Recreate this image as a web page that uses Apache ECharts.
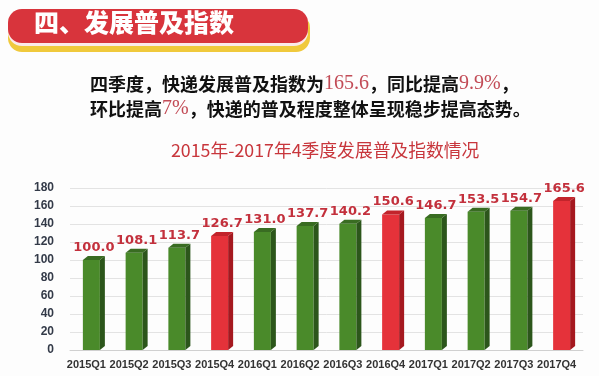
<!DOCTYPE html>
<html>
<head>
<meta charset="utf-8">
<script src="https://cdn.jsdelivr.net/npm/echarts@6/dist/echarts.min.js"></script>
<style>
    html, body { margin: 0; padding: 0; background: #fdfdfd; }
    #main { width: 599px; height: 376px; }
</style>
</head>
<body>
<div id="main"></div>
<script>
    // 数据
    var quarters = ['2015Q1', '2015Q2', '2015Q3', '2015Q4', '2016Q1', '2016Q2', '2016Q3', '2016Q4', '2017Q1', '2017Q2', '2017Q3', '2017Q4'];
    var indexValues = [100.0, 108.1, 113.7, 126.7, 131.0, 137.7, 140.2, 150.6, 146.7, 153.5, 154.7, 165.6];
    var yTicks = [0, 20, 40, 60, 80, 100, 120, 140, 160, 180];

    var green = { front: '#4a8a2a', side: '#2c561b', top: '#396c22' };
    var red = { front: '#e5323a', side: '#a5181f', top: '#c2242b' };

    var chart = echarts.init(document.getElementById('main'));

    // 立体柱子
    function renderBar(params, api) {
        var idx = api.value(0);
        var base = api.coord([idx, 0]);
        var top = api.coord([idx, api.value(1)]);
        var w = 17, dx = 5, dy = 4;
        var x0 = top[0] - w / 2;
        var c = quarters[idx].slice(-2) === 'Q4' ? red : green;
        return {
            type: 'group',
            children: [
                { type: 'rect', shape: { x: x0, y: top[1], width: w, height: base[1] - top[1] }, style: { fill: c.front } },
                { type: 'polygon', shape: { points: [[x0 + w, top[1]], [x0 + w + dx, top[1] - dy], [x0 + w + dx, base[1] - dy], [x0 + w, base[1]]] }, style: { fill: c.side } },
                { type: 'polygon', shape: { points: [[x0, top[1]], [x0 + dx, top[1] - dy], [x0 + w + dx, top[1] - dy], [x0 + w, top[1]]] }, style: { fill: c.top } },
                {
                    type: 'text',
                    style: {
                        x: x0 + (w + dx) / 2, y: top[1] - dy - 2,
                        text: api.value(1).toFixed(1),
                        align: 'center', verticalAlign: 'bottom',
                        fill: '#c3303c', font: 'bold 13px "DejaVu Sans", sans-serif'
                    }
                }
            ]
        };
    }

    var option = {
        backgroundColor: '#fdfdfd',
        animation: false,
        title: {
            text: '2015年-2017年4季度发展普及指数情况',
            left: 166, top: 136,
            textStyle: { color: '#c8363c', fontSize: 17.8, fontWeight: 'normal', fontFamily: 'Noto Sans CJK SC' }
        },
        graphic: [
            { type: 'rect', shape: { x: 8, y: 14, width: 302, height: 38, r: 14 }, style: { fill: '#f0c93c' } },
            { type: 'rect', shape: { x: 8, y: 9, width: 300, height: 37, r: 14 }, style: { fill: '#fbeaea' } },
            { type: 'rect', shape: { x: 8, y: 9, width: 300, height: 34, r: 14 }, style: { fill: '#d8343c' } },
            {
                type: 'text', left: 34, top: 10,
                style: { text: '四、发展普及指数', fill: '#fff', font: '900 25px "Noto Sans CJK SC"' }
            },
            {
                type: 'text', left: 90, top: 74,
                style: {
                    text: '{b|四季度，快递发展普及指数为}{r|165.6}{b|，同比提高}{r|9.9%}{b|，}',
                    rich: {
                        b: { fill: '#111', font: 'bold 18px "Noto Sans CJK SC"' },
                        r: { fill: '#c24b56', font: '20px "Liberation Serif"' }
                    }
                }
            },
            {
                type: 'text', left: 90, top: 99,
                style: {
                    text: '{b|环比提高}{r|7%}{b|，快递的普及程度整体呈现稳步提高态势。}',
                    rich: {
                        b: { fill: '#111', font: 'bold 18px "Noto Sans CJK SC"' },
                        r: { fill: '#c24b56', font: '20px "Liberation Serif"' }
                    }
                }
            }
        ],
        grid: { left: 70, right: 16, top: 188, bottom: 26 },
        xAxis: {
            type: 'category',
            data: quarters,
            axisLine: { lineStyle: { color: '#d0d0d0' } },
            axisTick: { show: false },
            axisLabel: { color: '#333', fontSize: 11, fontWeight: 'bold', margin: 9, padding: [0, 10, 0, 0], interval: 0 }
        },
        yAxis: {
            type: 'value',
            min: yTicks[0], max: yTicks[yTicks.length - 1], interval: 20,
            axisLine: { show: false },
            axisTick: { show: false },
            axisLabel: { color: '#333a48', fontSize: 12, fontWeight: 'bold', margin: 16 },
            splitLine: { lineStyle: { color: '#e3e3e3' } }
        },
        series: [{
            type: 'custom',
            renderItem: renderBar,
            data: indexValues.map(function (v, i) { return [i, v]; })
        }]
    };
    chart.setOption(option);
</script>
</body>
</html>
